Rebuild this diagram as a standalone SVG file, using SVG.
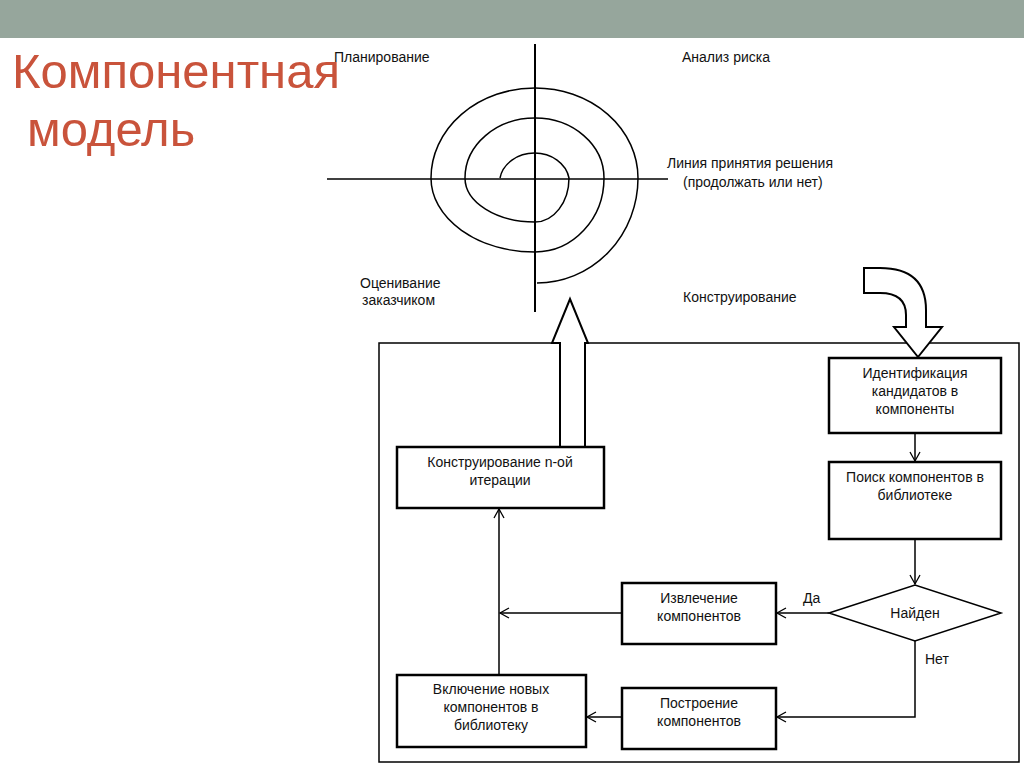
<svg xmlns="http://www.w3.org/2000/svg" width="1024" height="767" viewBox="0 0 1024 767">
<defs>
<style>
text{font-family:"Liberation Sans",Arial,sans-serif;font-size:14px;fill:#111}
.t{font-size:49px;fill:#c9533b}
.box{fill:#fff;stroke:#000;stroke-width:2.5}
.ln{fill:none;stroke:#000;stroke-width:1.5}
.ax{fill:none;stroke:#000;stroke-width:2}
</style>
<marker id="ar" markerWidth="12" markerHeight="12" refX="10" refY="6" orient="auto" markerUnits="userSpaceOnUse"><path d="M1,1 L10,6 L1,11" fill="none" stroke="#000" stroke-width="1.3"/></marker>
</defs>
<rect width="1024" height="767" fill="#fff"/>
<rect width="1024" height="38" fill="#96a69c"/>
<text class="t" x="12" y="88">Компонентная</text>
<text class="t" x="27" y="146">модель</text>
<g id="spiral">
<line class="ax" x1="535" y1="44" x2="535" y2="312"/>
<line class="ln" x1="327" y1="179" x2="668" y2="179"/>
<path class="ln" d="M500,178 A35,30 0 0 1 569,178 A34,44 0 0 1 535,222 A70,44 0 0 1 465,178 A70,60 0 0 1 535,118 A69,60 0 0 1 604,178 A69,74 0 0 1 535,252 A104,74 0 0 1 431,178 A104,90 0 0 1 535,88 A103,90 0 0 1 638,178 A101,105 0 0 1 537,283"/>
</g>
<text x="334" y="62">Планирование</text>
<text x="682" y="62">Анализ риска</text>
<text x="667" y="168">Линия принятия решения</text>
<text x="683" y="187">(продолжать или нет)</text>
<text x="360" y="288">Оценивание</text>
<text x="362" y="305">заказчиком</text>
<text x="683" y="302">Конструирование</text>
<rect x="379" y="343" width="640" height="419" fill="none" stroke="#000" stroke-width="1.5"/>
<path d="M560,447 L560,343 L552,343 L570,299 L588,343 L585,343 L585,447" fill="#fff" stroke="#000" stroke-width="2"/>
<path d="M864,268 L880,268 Q926,268 926,310 L926,327 L942,327 L918,357 L894,327 L906,327 L906,315 Q906,293 880,293 L864,293 Z" fill="#fff" stroke="#000" stroke-width="2"/>
<g id="connectors">
<line class="ln" x1="915" y1="433" x2="915" y2="461" marker-end="url(#ar)"/>
<line class="ln" x1="915" y1="539" x2="915" y2="584" marker-end="url(#ar)"/>
<line class="ln" x1="829" y1="613" x2="777" y2="613" marker-end="url(#ar)"/>
<line class="ln" x1="622" y1="613" x2="500" y2="613" marker-end="url(#ar)"/>
<line class="ln" x1="499" y1="675" x2="499" y2="509" marker-end="url(#ar)"/>
<polyline class="ln" points="915,640 915,717 777,717" marker-end="url(#ar)"/>
<line class="ln" x1="622" y1="717" x2="587" y2="717" marker-end="url(#ar)"/>
</g>
<text x="803" y="603">Да</text>
<text x="925" y="664">Нет</text>
<g id="n1"><rect class="box" x="829" y="358" width="172" height="75"/><text text-anchor="middle" x="915" y="378">Идентификация</text><text text-anchor="middle" x="915" y="396">кандидатов в</text><text text-anchor="middle" x="915" y="414">компоненты</text></g>
<g id="n2"><rect class="box" x="829" y="462" width="172" height="77"/><text text-anchor="middle" x="915" y="482">Поиск компонентов в</text><text text-anchor="middle" x="915" y="500">библиотеке</text></g>
<g id="n3"><polygon points="829,613 915,585 1001,613 915,641" fill="#fff" stroke="#000" stroke-width="1.5"/><text text-anchor="middle" x="915" y="618">Найден</text></g>
<g id="n4"><rect class="box" x="622" y="583" width="154" height="61"/><text text-anchor="middle" x="699" y="603">Извлечение</text><text text-anchor="middle" x="699" y="621">компонентов</text></g>
<g id="n5"><rect class="box" x="622" y="688" width="154" height="61"/><text text-anchor="middle" x="699" y="708">Построение</text><text text-anchor="middle" x="699" y="726">компонентов</text></g>
<g id="n6"><rect class="box" x="397" y="675" width="189" height="72"/><text text-anchor="middle" x="491" y="694">Включение новых</text><text text-anchor="middle" x="491" y="712">компонентов в</text><text text-anchor="middle" x="491" y="730">библиотеку</text></g>
<g id="n7"><rect class="box" x="397" y="447" width="207" height="61"/><text text-anchor="middle" x="500" y="467">Конструирование n-ой</text><text text-anchor="middle" x="500" y="485">итерации</text></g>
</svg>
